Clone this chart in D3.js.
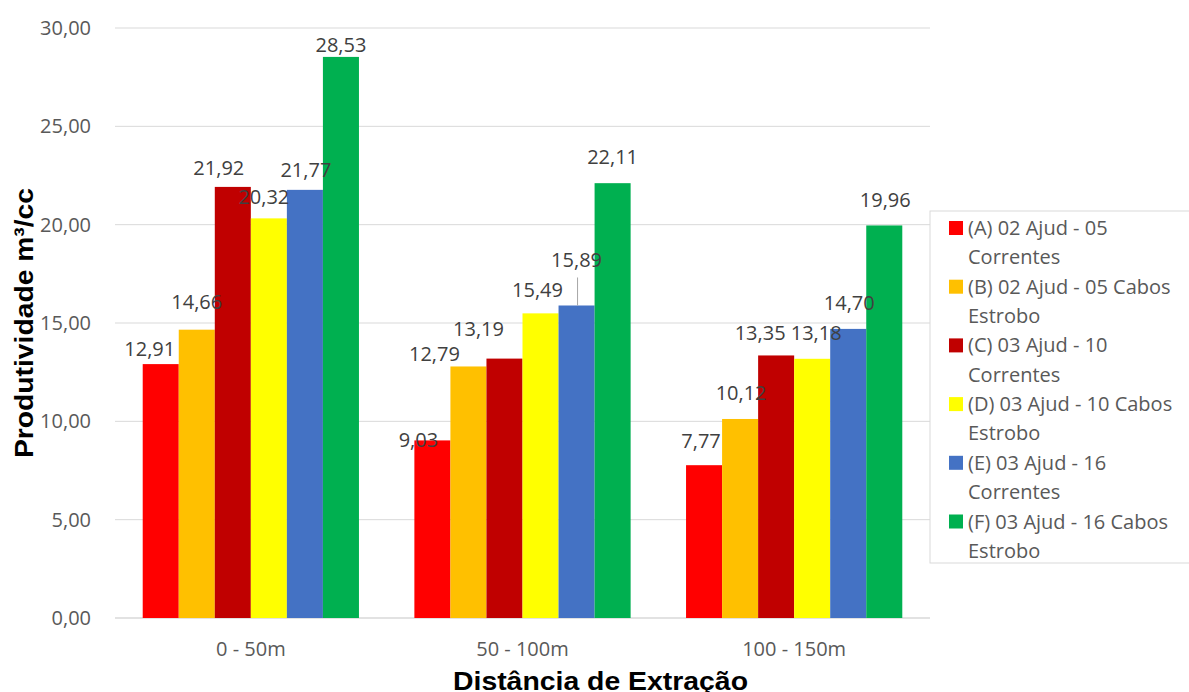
<!DOCTYPE html>
<html>
<head>
<meta charset="utf-8">
<script src="https://cdn.jsdelivr.net/npm/d3@7"></script>
<style>
  body { margin: 0; background: #fff; }
  text { font-family: "Open Sans", "Noto Sans", sans-serif; }
  text.title { font-family: "Liberation Sans", Arial, sans-serif; font-weight: bold; }
</style>
</head>
<body>
<div id="chart"></div>
<script>
// data
const categories = ["0 - 50m", "50 - 100m", "100 - 150m"];
const seriesNames = [
    ["(A) 02 Ajud - 05", "Correntes"],
    ["(B) 02 Ajud - 05 Cabos", "Estrobo"],
    ["(C) 03 Ajud - 10", "Correntes"],
    ["(D) 03 Ajud - 10 Cabos", "Estrobo"],
    ["(E) 03 Ajud - 16", "Correntes"],
    ["(F) 03 Ajud - 16 Cabos", "Estrobo"]
];
const seriesA = [12.91, 9.03, 7.77];
const seriesB = [14.66, 12.79, 10.12];
const seriesC = [21.92, 13.19, 13.35];
const seriesD = [20.32, 15.49, 13.18];
const seriesE = [21.77, 15.89, 14.70];
const seriesF = [28.53, 22.11, 19.96];
const yTicks = [0, 5, 10, 15, 20, 25, 30];

const colors = ["#ff0000", "#ffc000", "#c00000", "#ffff00", "#4472c4", "#00b050"];
const allSeries = [seriesA, seriesB, seriesC, seriesD, seriesE, seriesF];

// label nudges (moved by hand in the original), [dx, dy] from bar top centre
const labelNudge = [
    [[-11, -15], [-14, 0], [-3, -24]],
    [[0, -28], [-34, -12], [1, -26]],
    [[-14, -19], [-26, -30], [-16, -22]],
    [[-5, -21], [-3, -23], [4, -26]],
    [[1, -20], [0, -45], [1, -26]],
    [[0, -12], [0, -26], [1, -25]]
];

const width = 1189, height = 692;
const margin = {top: 28, right: 259, bottom: 74, left: 115};
const w = width - margin.left - margin.right;
const h = height - margin.top - margin.bottom;
const fs = 20;

const svg = d3.select("#chart").append("svg")
    .attr("width", width)
    .attr("height", height);

const g = svg.append("g")
    .attr("transform", "translate(" + margin.left + "," + margin.top + ")");

const x0 = d3.scaleBand().domain(categories).range([0, w]).paddingInner(0).paddingOuter(0);
const x1 = d3.scaleBand().domain(d3.range(allSeries.length))
    .range([x0.bandwidth() * 0.102, x0.bandwidth() * 0.898]);
const y = d3.scaleLinear().domain([0, 30]).range([h, 0]);

// gridlines
g.selectAll(".grid").data(yTicks).enter().append("line")
    .attr("x1", 0).attr("x2", w)
    .attr("y1", d => y(d)).attr("y2", d => y(d))
    .attr("stroke", "#d9d9d9")
    .attr("stroke-width", d => d === 0 ? 1.5 : 1);

// y axis labels
const fmt = d => d3.format(".2f")(d).replace(".", ",");
g.selectAll(".ytick").data(yTicks).enter().append("text")
    .attr("x", -24)
    .attr("y", d => y(d))
    .attr("dy", "0.35em")
    .attr("text-anchor", "end")
    .attr("fill", "#595959")
    .attr("font-size", fs)
    .text(fmt);

// bars
allSeries.forEach((s, si) => {
    g.selectAll(".bar" + si).data(s).enter().append("rect")
        .attr("x", (d, i) => x0(categories[i]) + x1(si))
        .attr("width", x1.bandwidth())
        .attr("y", d => y(d))
        .attr("height", d => h - y(d))
        .attr("fill", colors[si]);
});

// leader line for the (E) 50 - 100m label
g.append("line")
    .attr("x1", x0(categories[1]) + x1(4) + x1.bandwidth() / 2 + 1)
    .attr("x2", x0(categories[1]) + x1(4) + x1.bandwidth() / 2 + 1)
    .attr("y1", y(seriesE[1]) - 28)
    .attr("y2", y(seriesE[1]))
    .attr("stroke", "#a6a6a6")
    .attr("stroke-width", 1);

// value labels
allSeries.forEach((s, si) => {
    g.selectAll(".lab" + si).data(s).enter().append("text")
        .attr("x", (d, i) => x0(categories[i]) + x1(si) + x1.bandwidth() / 2 + labelNudge[si][i][0])
        .attr("y", (d, i) => y(d) + labelNudge[si][i][1])
        .attr("dy", "0.35em")
        .attr("text-anchor", "middle")
        .attr("fill", "#404040")
        .attr("font-size", fs)
        .text(fmt);
});

// x axis labels
g.selectAll(".xtick").data(categories).enter().append("text")
    .attr("x", d => x0(d) + x0.bandwidth() / 2)
    .attr("y", h + 31)
    .attr("dy", "0.35em")
    .attr("text-anchor", "middle")
    .attr("fill", "#595959")
    .attr("font-size", fs)
    .text(d => d);

// axis titles
svg.append("text")
    .attr("class", "title")
    .attr("x", 453)
    .attr("y", 690)
    .attr("font-size", 25)
    .attr("textLength", 295)
    .attr("lengthAdjust", "spacingAndGlyphs")
    .attr("fill", "#000")
    .text("Distância de Extração");

svg.append("text")
    .attr("class", "title")
    .attr("transform", "translate(33,458) rotate(-90)")
    .attr("font-size", 25)
    .attr("textLength", 270)
    .attr("lengthAdjust", "spacingAndGlyphs")
    .attr("fill", "#000")
    .text("Produtividade m³/cc");

// legend
const lg = svg.append("g").attr("transform", "translate(930,211)");
lg.append("rect")
    .attr("x", 0).attr("y", 0)
    .attr("width", 270).attr("height", 352)
    .attr("fill", "#fff")
    .attr("stroke", "#d9d9d9");

seriesNames.forEach((nm, i) => {
    const yy = 17 + i * 58.7;
    lg.append("rect")
        .attr("x", 19).attr("y", yy - 7)
        .attr("width", 14).attr("height", 14)
        .attr("fill", colors[i]);
    nm.forEach((line, li) => {
        lg.append("text")
            .attr("x", 38)
            .attr("y", yy + li * 29.3)
            .attr("dy", "0.35em")
            .attr("fill", "#595959")
            .attr("font-size", fs)
            .text(line);
    });
});
</script>
</body>
</html>
